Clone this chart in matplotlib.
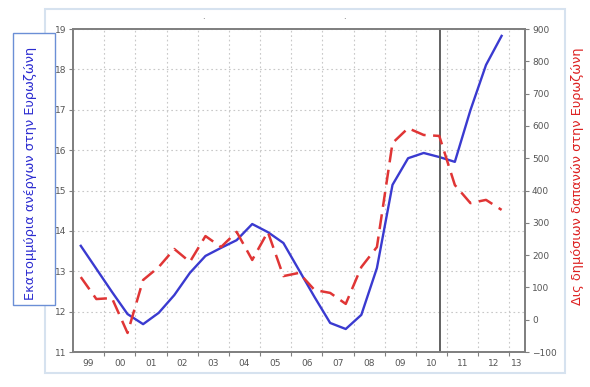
import numpy as np
import matplotlib
matplotlib.use("Agg")
import matplotlib.pyplot as plt
from matplotlib.patches import Rectangle

# half-year periods, 1999 H1 .. 2012 H2
periods = [f"{y}-H{h}" for y in range(1999, 2013) for h in (1, 2)]
unemployed = [13.63, 13.06, 12.49, 11.94, 11.69, 11.97, 12.41, 12.96, 13.38, 13.58,
              13.77, 14.17, 13.97, 13.70, 13.03, 12.36, 11.72, 11.57, 11.92, 13.08,
              15.14, 15.80, 15.93, 15.83, 15.71, 16.99, 18.11, 18.83]
spending = [132, 64, 67, -41, 123, 163, 219, 179, 259, 225,
            272, 185, 272, 135, 145, 92, 83, 49, 163, 225,
            547, 593, 572, 569, 417, 361, 371, 340]
year_labels = ["99", "00", "01", "02", "03", "04", "05", "06", "07",
               "08", "09", "10", "11", "12", "13"]
marker_year = 2010.76

x = np.array([int(p[:4]) + (0.25 if p.endswith("H1") else 0.75) for p in periods])

fig = plt.figure(figsize=(5.9, 3.87), dpi=100)
fig.patch.set_facecolor("white")

# light outer frame
fig.patches.append(Rectangle((0.076, 0.036), 0.882, 0.941, transform=fig.transFigure,
                             fill=False, edgecolor="#d6e2ef", linewidth=1.5, zorder=0))

# left label in a blue box (drawn under the axes so tick labels stay visible)
fig.patches.append(Rectangle((0.022, 0.212), 0.071, 0.703, transform=fig.transFigure,
                             facecolor="white", edgecolor="#6b8fd6", linewidth=1.0, zorder=0.5))

ax = fig.add_axes([0.1237, 0.0904, 0.7661, 0.8346])
ax2 = ax.twinx()
ax.set_zorder(1)
ax2.set_zorder(2)
ax.patch.set_alpha(0)

grey = "#808080"
ax.plot(x, unemployed, color="#3a3ad0", linewidth=1.7, zorder=3)
ax2.plot(x, spending, color="#e03535", linewidth=1.8, dashes=(6, 3), zorder=3)
ax.axvline(marker_year, color="#555555", linewidth=1.3, zorder=4)

ax.set_xlim(1999, 2013.5)
ax.set_ylim(11, 19)
ax2.set_ylim(-100, 900)

ax.set_xticks(np.arange(2000, 2014))
ax.set_xticklabels([])
ax.set_xticks([1999.5 + i for i in range(14)] + [2013.25], minor=True)
ax.set_xticklabels(year_labels, minor=True)
ax.set_yticks(np.arange(11, 20))
ax2.set_yticks(np.arange(-100, 901, 100))

for a in (ax, ax2):
    a.tick_params(axis="both", which="both", labelsize=6.5, labelcolor="#555555",
                  color=grey, length=3, width=0.8, pad=2)
    for s in a.spines.values():
        s.set_color(grey)
        s.set_linewidth(1.3)
ax.tick_params(axis="x", which="minor", length=0, pad=5)

ax.grid(True, which="major", color="#c8c8c8", linestyle=(0, (1.5, 2.5)), linewidth=0.8)
ax.set_axisbelow(True)

fig.text(0.052, 0.553, "Εκατομμύρια ανέργων στην Ευρωζώνη", rotation=90,
         ha="center", va="center", color="#2b2bd0", fontsize=9.3, zorder=6)
fig.text(0.979, 0.545, "Δις δημόσιων δαπανών στην Ευρωζώνη", rotation=90,
         ha="center", va="center", color="#dd2222", fontsize=9.3)

# tiny marks above the plot
fig.text(0.344, 0.952, ".", color="#555555", fontsize=6, ha="center")
fig.text(0.583, 0.952, ".", color="#555555", fontsize=6, ha="center")

fig.savefig("out.png", dpi=100, facecolor="white")
